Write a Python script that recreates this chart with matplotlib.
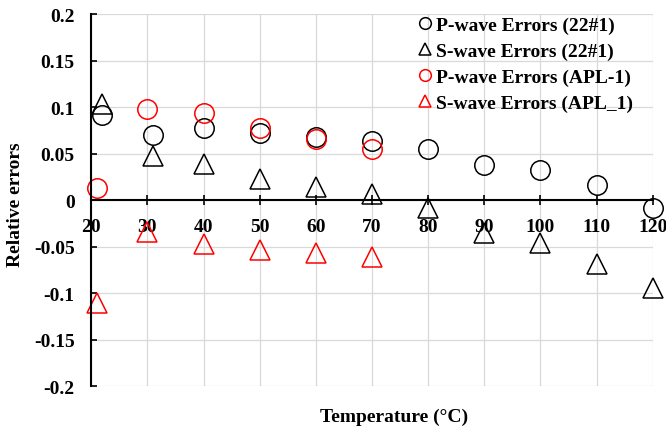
import numpy as np
import matplotlib.pyplot as plt

plt.rcParams['font.family'] = ['Liberation Serif', 'DejaVu Serif']
plt.rcParams['font.weight'] = 'bold'

# 22#1 sample, P and S wave relative errors
temp_22 = [22, 31, 40, 50, 60, 70, 80, 90, 100, 110, 120]
p_err_22 = [0.091, 0.070, 0.078, 0.072, 0.068, 0.063, 0.055, 0.038, 0.032, 0.016, -0.009]
s_err_22 = [0.103, 0.047, 0.039, 0.023, 0.014, 0.006, -0.009, -0.035, -0.046, -0.069, -0.095]

# APL-1 sample
temp_apl = [21, 30, 40, 50, 60, 70]
p_err_apl = [0.013, 0.098, 0.094, 0.077, 0.066, 0.055]
s_err_apl = [-0.111, -0.034, -0.047, -0.054, -0.057, -0.061]

fig = plt.figure(figsize=(6.66, 4.31), dpi=100)
ax = fig.add_axes([0.137, 0.102, 0.843, 0.863])

ms = 14
style = dict(ms=ms, mfc='none', mew=1.1, linestyle='none', clip_on=False)
ax.plot(temp_22, p_err_22, 'o', mec='black', label='P-wave Errors (22#1)', **style)
ax.plot(temp_22, s_err_22, '^', mec='black', label='S-wave Errors (22#1)', **style)
ax.plot(temp_apl, p_err_apl, 'o', mec='#ff0000', label='P-wave Errors (APL-1)', **style)
ax.plot(temp_apl, s_err_apl, '^', mec='#ff0000', label='S-wave Errors (APL_1)', **style)

ax.set_xlim(20, 120)
ax.set_ylim(-0.2, 0.2)
ax.set_xticks(np.arange(20, 121, 10))
ax.set_yticks(np.arange(-0.2, 0.201, 0.05))
ax.set_yticklabels(['-0.2', '-0.15', '-0.1', '-0.05', '0', '0.05', '0.1', '0.15', '0.2'])

ax.grid(True, color='#d9d9d9', linewidth=0.9)
ax.set_axisbelow(True)

ax.spines['top'].set_visible(False)
ax.spines['right'].set_visible(False)
ax.spines['bottom'].set_position(('data', 0))
ax.spines['left'].set_linewidth(1.5)
ax.spines['bottom'].set_linewidth(1.5)

fs = 14
ax.tick_params(axis='x', direction='inout', length=7, width=1.2, pad=9.5,
               labelsize=fs)
ax.tick_params(axis='y', direction='in', length=4.5, width=1.2, pad=12,
               labelsize=fs)

ax.set_xlabel('Temperature (°C)', fontsize=fs, fontweight='bold')
ax.xaxis.set_label_coords(0.539, -0.059)
ax.set_ylabel('Relative errors', fontsize=fs, fontweight='bold')
ax.yaxis.set_label_coords(-0.12, 0.49)

ax.legend(loc='upper left', bbox_to_anchor=(0.58, 1.0), frameon=False,
          fontsize=fs, markerscale=0.6, handlelength=0.6, handletextpad=0.3,
          labelspacing=0.43, borderpad=0.1, borderaxespad=0)

fig.savefig('out.png', dpi=100)
